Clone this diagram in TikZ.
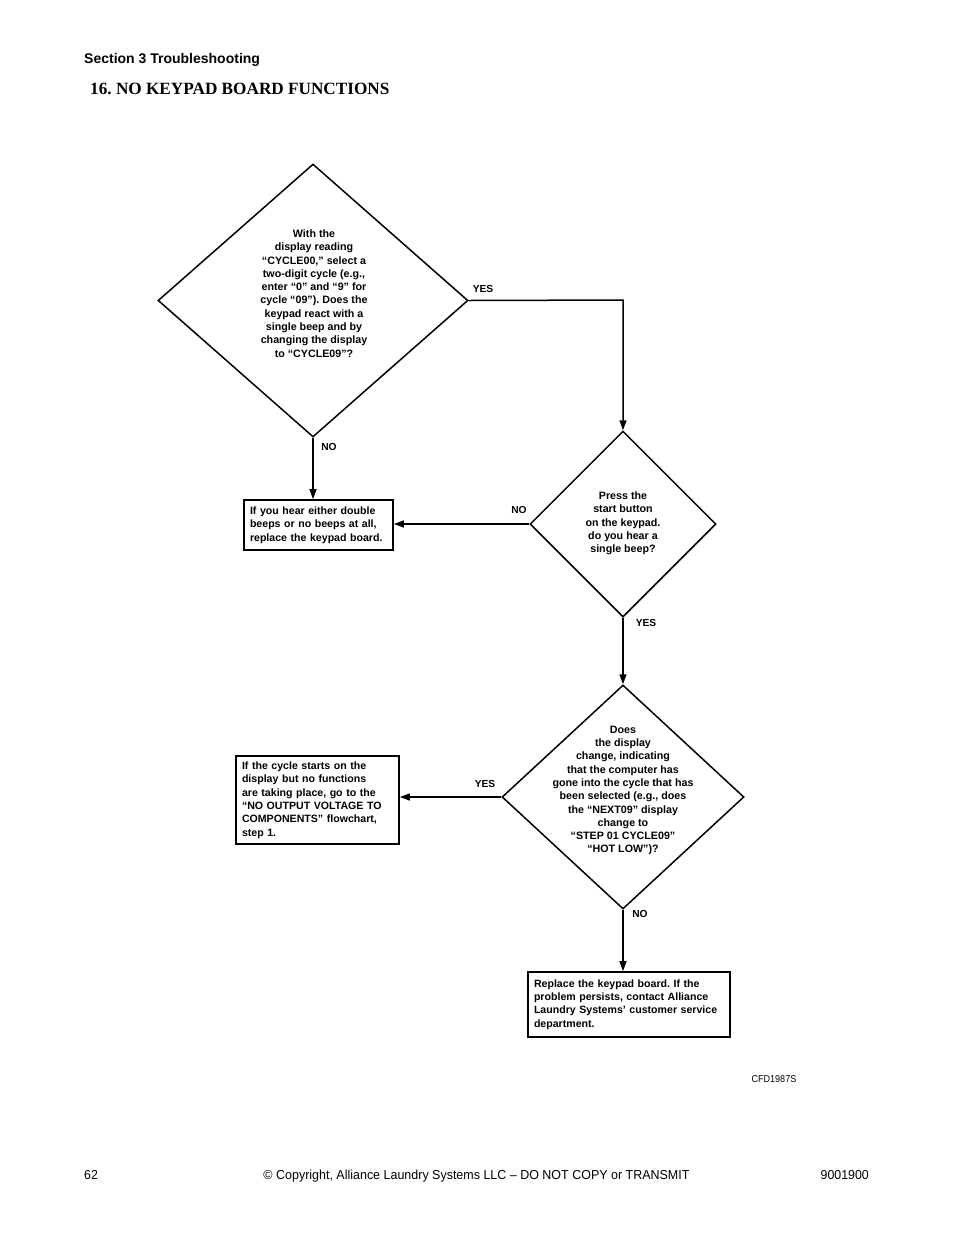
\documentclass[tikz,border=0pt]{standalone}
\usepackage{fontspec}
\usepackage{graphicx}
\setmainfont{Liberation Sans}
\newfontfamily\serifbf{Liberation Serif}
\usetikzlibrary{shapes.geometric,arrows.meta}
\frenchspacing
\begin{document}
\begin{tikzpicture}[x=1pt,y=-1pt,
  dia/.style={diamond,draw,line width=1.5pt,inner sep=0pt,minimum width=#1},
  dtext/.style={align=center,font=\fontsize{10.7}{13.3}\selectfont\bfseries,inner sep=0pt},
  stepbox/.style={draw,line width=1.7pt,align=left,font=\fontsize{10.6}{13.4}\selectfont\bfseries,inner xsep=6pt,inner ysep=0pt},
  lbl/.style={font=\fontsize{10.2}{11}\selectfont\bfseries,inner sep=0pt},
  foot/.style={inner sep=0pt,font=\fontsize{13}{15}\selectfont},
  arr/.style={line width=1.5pt,-{Triangle[length=10pt,width=7pt]}}]
\useasboundingbox (0,0) rectangle (954,1235);
\fill[white] (0,0) rectangle (954,1235);
% header
\node[anchor=west,inner sep=0pt,font=\fontsize{14}{16}\selectfont\bfseries] (sec) at (84,60) {Section 3 Troubleshooting};
\node[anchor=west,inner sep=0pt,font=\fontsize{17.2}{19}\selectfont\serifbf\bfseries] (ttl) at (90,89) {16. NO KEYPAD BOARD FUNCTIONS};
% diamonds
\node[dia=310pt,minimum height=273pt] (d1) at (313,300.5) {};
\node[dtext] (t1) at (314,293.5) {With the\\display reading\\``CYCLE00,'' select a\\two-digit cycle (e.g.,\\enter ``0'' and ``9'' for\\cycle ``09''). Does the\\keypad react with a\\single beep and by\\changing the display\\to ``CYCLE09''?};
\node[dia=186pt,minimum height=186pt] (d2) at (623,524) {};
\node[dtext] (t2) at (623,523.5) {Press the\\start button\\on the keypad.\\do you hear a\\single beep?};
\node[dia=242pt,minimum height=224pt] (d3) at (623,797) {};
\node[dtext] (t3) at (623,790.5) {Does\\the display\\change, indicating\\that the computer has\\gone into the cycle that has\\been selected (e.g., does\\the ``NEXT09'' display\\change to\\``STEP 01 CYCLE09''\\``HOT LOW'')?};
% boxes
\node[stepbox,text width=137pt,minimum height=50pt] (b1) at (318.5,525) {If you hear either double\\beeps or no beeps at all,\\replace the keypad board.};
\node[stepbox,text width=151pt,minimum height=88pt] (b2) at (317.5,800) {If the cycle starts on the\\display but no functions\\are taking place, go to the\\``NO OUTPUT VOLTAGE TO\\COMPONENTS'' flowchart,\\step 1.};
\node[stepbox,text width=190pt,minimum height=65pt] (b3) at (629,1004.5) {Replace the keypad board. If the\\problem persists, contact Alliance\\Laundry Systems' customer service\\department.};
% connectors
\coordinate (c1) at (623,300);
\draw[arr] (d1.east) -- (c1) -- (d2.north);
\draw[arr] (d1.south) -- (d1.south |- b1.north);
\draw[arr] (d2.west) -- (d2.west -| b1.east);
\draw[arr] (d2.south) -- (d3.north);
\draw[arr] (d3.west) -- (d3.west -| b2.east);
\draw[arr] (d3.south) -- (d3.south |- b3.north);
% labels
\node[lbl] (l1) at (483,289) {YES};
\node[lbl] (l2) at (329,447) {NO};
\node[lbl] (l3) at (519,510) {NO};
\node[lbl] (l4) at (646,623) {YES};
\node[lbl] (l5) at (485,784) {YES};
\node[lbl] (l6) at (640,914) {NO};
\node[inner sep=0pt,font=\fontsize{10}{11}\selectfont] (cfd) at (774,1079) {\scalebox{0.9}[1]{CFD1987S}};
% footer
\node[foot,anchor=base west] (pg) at (84,1179) {\scalebox{0.95}[1]{62}};
\node[foot,anchor=base] (cp) at (476.5,1179) {\scalebox{0.96}[1]{\textcopyright\ Copyright, Alliance Laundry Systems LLC -- DO NOT COPY or TRANSMIT}};
\node[foot,anchor=base east] (dn) at (869,1179) {\scalebox{0.95}[1]{9001900}};
\end{tikzpicture}
\end{document}
